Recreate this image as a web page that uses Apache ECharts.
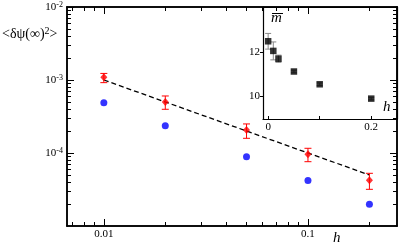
<!DOCTYPE html>
<html><head><meta charset="utf-8">
<script src="https://cdn.jsdelivr.net/npm/echarts@6/dist/echarts.min.js"></script>
<style>html,body{margin:0;padding:0;background:#fff}#c{width:399px;height:246px}</style>
</head><body><div id="c"></div>
<script>
// ---- data (main plot) ----
const hValues = [0.01, 0.02, 0.05, 0.1, 0.2];
const redMean = [1.09e-3, 5.0e-4, 2.07e-4, 9.6e-5, 4.23e-5];
const redHigh = [1.23e-3, 6.04e-4, 2.5e-4, 1.16e-4, 5.27e-5];
const redLow  = [0.92e-3, 3.97e-4, 1.59e-4, 7.6e-5, 3.18e-5];
const blueVals = [4.89e-4, 2.37e-4, 8.9e-5, 4.2e-5, 1.98e-5];
const fitH = [0.01, 0.2];
const fitVals = [1.0e-3, 5.0e-5];
// main axis ranges and ticks
const xRange = [0.0066, 0.273];
const yRange = [1e-5, 1e-2];
const xMajorTicks = [0.01, 0.1];
const xTickLabels = ['0.01', '0.1'];
const xMinorTicks = [0.007, 0.008, 0.009, 0.02, 0.03, 0.04, 0.05, 0.06, 0.07, 0.08, 0.09, 0.2];
const yMajorTicks = [1e-4, 1e-3, 1e-2];
const yTickExps = ['-4', '-3', '-2'];
const yMinorTicks = [2e-5,3e-5,4e-5,5e-5,6e-5,7e-5,8e-5,9e-5,2e-4,3e-4,4e-4,5e-4,6e-4,7e-4,8e-4,9e-4,2e-3,3e-3,4e-3,5e-3,6e-3,7e-3,8e-3,9e-3];
// ---- data (inset) ----
const insetH = [0, 0.01, 0.02, 0.05, 0.1, 0.2];
const insetM = [12.47, 12.04, 11.69, 11.12, 10.55, 9.91];
const insetErr = [0.35, 0.4, 0.16, 0.06, 0.06, 0.06];
const insetXRange = [-0.01, 0.25];
const insetYRange = [9, 14];
const insetXTicks = [0, 0.1, 0.2];
const insetXLabels = ['0', '0.2'];
const insetYTicks = [10, 12];

const L = Math.log10;
const FONT = 'Liberation Serif';

function logAxis(dir, pos, range, ticks, len, opts) {
  const ax = {
    type: 'value', gridIndex: 0, position: pos,
    min: L(range[0]), max: L(range[1]),
    axisLine: { show: true, onZero: false, lineStyle: { color: '#000', width: 1.5 } },
    axisTick: { show: true, inside: true, length: len, customValues: ticks.map(L), lineStyle: { color: '#000', width: 1 } },
    axisLabel: { show: false },
    splitLine: { show: false }
  };
  return Object.assign(ax, opts || {});
}

const xAxes = [
  logAxis('x', 'bottom', xRange, xMajorTicks, 7, {
    axisLabel: { show: true, customValues: xMajorTicks.map(L), margin: 3,
      fontFamily: FONT, fontSize: 11, color: '#000',
      formatter: v => xTickLabels[xMajorTicks.findIndex(t => Math.abs(L(t) - v) < 1e-6)] }
  }),
  logAxis('x', 'bottom', xRange, xMinorTicks, 4),
  logAxis('x', 'top', xRange, xMajorTicks, 7),
  logAxis('x', 'top', xRange, xMinorTicks, 4),
  { type: 'value', gridIndex: 1, position: 'bottom', min: insetXRange[0], max: insetXRange[1],
    axisLine: { show: true, onZero: false, lineStyle: { color: '#000', width: 1.2 } },
    axisTick: { show: true, inside: true, length: 3, customValues: insetXTicks, lineStyle: { color: '#000' } },
    axisLabel: { show: true, customValues: [0, 0.2], margin: 3, fontFamily: FONT, fontSize: 11, color: '#000',
      formatter: v => insetXLabels[v === 0 ? 0 : 1] },
    splitLine: { show: false } },
  { type: 'value', gridIndex: 1, position: 'top', min: insetXRange[0], max: insetXRange[1],
    axisLine: { show: true, onZero: false, lineStyle: { color: '#000', width: 1.2 } },
    axisTick: { show: false }, axisLabel: { show: false }, splitLine: { show: false } }
];
const yAxes = [
  logAxis('y', 'left', yRange, yMajorTicks, 7, {
    axisLabel: { show: true, customValues: yMajorTicks.map(L), margin: 4,
      fontFamily: FONT, color: '#000',
      formatter: v => '{b|10}{s|' + yTickExps[yMajorTicks.findIndex(t => Math.abs(L(t) - v) < 1e-6)] + '}',
      rich: {
        b: { fontFamily: FONT, fontSize: 11, lineHeight: 12, padding: [4, 0, 0, 0], verticalAlign: 'bottom', color: '#000' },
        s: { fontFamily: FONT, fontSize: 8, lineHeight: 9, verticalAlign: 'top', color: '#000' }
      } }
  }),
  logAxis('y', 'left', yRange, yMinorTicks, 4),
  logAxis('y', 'right', yRange, yMajorTicks, 7),
  logAxis('y', 'right', yRange, yMinorTicks, 4),
  { type: 'value', gridIndex: 1, position: 'left', min: insetYRange[0], max: insetYRange[1],
    axisLine: { show: true, onZero: false, lineStyle: { color: '#000', width: 1.2 } },
    axisTick: { show: true, inside: false, length: 3, customValues: insetYTicks, lineStyle: { color: '#000' } },
    axisLabel: { show: true, customValues: insetYTicks, margin: 3, fontFamily: FONT, fontSize: 11, color: '#000' },
    splitLine: { show: false } },
  { type: 'value', gridIndex: 1, position: 'right', min: insetYRange[0], max: insetYRange[1],
    axisLine: { show: true, onZero: false, lineStyle: { color: '#000', width: 1.2 } },
    axisTick: { show: false }, axisLabel: { show: false }, splitLine: { show: false } }
];

function errorBarSeries(data, xi, yi, color, cap) {
  return {
    type: 'custom', xAxisIndex: xi, yAxisIndex: yi, data: data, z: 3, silent: true,
    encode: { x: 0, y: [1, 2] },
    renderItem: (params, api) => {
      const x = api.value(0);
      const a = api.coord([x, api.value(1)]);
      const b = api.coord([x, api.value(2)]);
      const st = { stroke: color, lineWidth: 1 };
      return { type: 'group', children: [
        { type: 'line', shape: { x1: a[0], y1: a[1], x2: b[0], y2: b[1] }, style: st },
        { type: 'line', shape: { x1: a[0] - cap, y1: a[1], x2: a[0] + cap, y2: a[1] }, style: st },
        { type: 'line', shape: { x1: b[0] - cap, y1: b[1], x2: b[0] + cap, y2: b[1] }, style: st }
      ] };
    }
  };
}

const option = {
  animation: false,
  backgroundColor: '#fff',
  grid: [
    { left: 67, top: 7, width: 330, height: 219, outerBoundsMode: 'none', containLabel: false },
    { left: 263, top: 7, width: 134, height: 112, outerBoundsMode: 'none', containLabel: false }
  ],
  xAxis: xAxes,
  yAxis: yAxes,
  series: [
    { type: 'line', xAxisIndex: 0, yAxisIndex: 0, symbol: 'none', z: 2,
      data: fitH.map((h, i) => [L(h), L(fitVals[i])]),
      lineStyle: { color: '#000', width: 1.3, type: [5, 3] } },
    errorBarSeries(hValues.map((h, i) => [L(h), L(redLow[i]), L(redHigh[i])]), 0, 0, '#ff0000', 3.5),
    { type: 'scatter', xAxisIndex: 0, yAxisIndex: 0, symbol: 'diamond', symbolSize: [7, 8], z: 4,
      itemStyle: { color: '#ff0000' },
      data: hValues.map((h, i) => [L(h), L(redMean[i])]) },
    { type: 'scatter', xAxisIndex: 0, yAxisIndex: 0, symbol: 'circle', symbolSize: 7, z: 4,
      itemStyle: { color: '#0000ff' },
      data: hValues.map((h, i) => [L(h), L(blueVals[i])]) },
    errorBarSeries(insetH.map((h, i) => [h, insetM[i] - insetErr[i], insetM[i] + insetErr[i]]), 4, 4, '#888888', 3),
    { type: 'scatter', xAxisIndex: 4, yAxisIndex: 4, symbol: 'rect', symbolSize: 6.5, z: 4,
      itemStyle: { color: '#000' },
      data: insetH.map((h, i) => [h, insetM[i]]) }
  ],
  graphic: [
    { type: 'text', left: 2, top: 22, style: {
        text: '{a|<δψ(∞)}{s|2}{a|>}', fontFamily: FONT,
        rich: {
          a: { fontFamily: FONT, fontSize: 14, lineHeight: 15, padding: [5, 0, 0, 0], verticalAlign: 'bottom', fill: '#000' },
          s: { fontFamily: FONT, fontSize: 10, lineHeight: 10, verticalAlign: 'top', fill: '#000' }
        } } },
    { type: 'text', left: 333, top: 231, style: { text: 'h', fontFamily: FONT, fontStyle: 'italic', fontSize: 15, fill: '#000' } },
    { type: 'text', left: 383, top: 100, style: { text: 'h', fontFamily: FONT, fontStyle: 'italic', fontSize: 15, fill: '#000' } },
    { type: 'text', left: 271, top: 11, style: { text: 'm', fontFamily: FONT, fontStyle: 'italic', fontSize: 15, fill: '#000' } },
    { type: 'line', shape: { x1: 272, y1: 13.5, x2: 283, y2: 13.5 }, style: { stroke: '#000', lineWidth: 1 } }
  ]
};
const chart = echarts.init(document.getElementById('c'), null, { renderer: 'canvas' });
chart.setOption(option);
</script></body></html>
